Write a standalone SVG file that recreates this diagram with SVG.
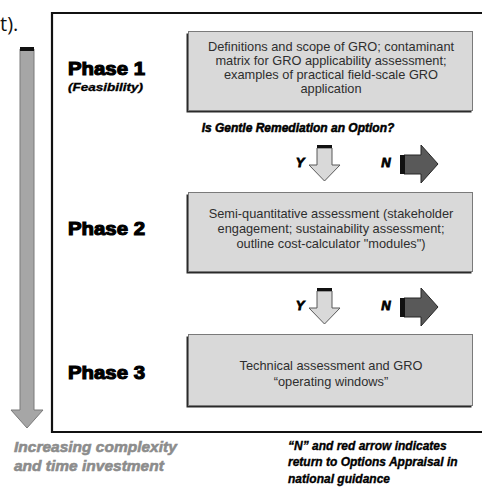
<svg xmlns="http://www.w3.org/2000/svg" width="482" height="490" viewBox="0 0 482 490">
<style>
.body{font-family:"Liberation Sans",Arial,sans-serif;font-size:12.8px;fill:#2e2e2e;text-anchor:middle}
.phase{font-family:"Liberation Sans",Arial,sans-serif;font-weight:bold;font-size:18px;fill:#000;stroke:#000;stroke-width:1.1}
.q{font-family:"Liberation Sans",Arial,sans-serif;font-weight:bold;font-style:italic;font-size:12px;fill:#000;stroke:#000;stroke-width:0.5}
.yn{font-family:"Liberation Sans",Arial,sans-serif;font-weight:bold;font-style:italic;font-size:13px;fill:#000;stroke:#000;stroke-width:0.8;text-anchor:middle}
.note{font-family:"Liberation Sans",Arial,sans-serif;font-weight:bold;font-style:italic;font-size:12px;fill:#000;stroke:#000;stroke-width:0.35}
.grey{font-family:"Liberation Sans",Arial,sans-serif;font-weight:bold;font-style:italic;font-size:15.5px;fill:#8c8c8c;stroke:#8c8c8c;stroke-width:0.6}
.box{fill:#d9d9d9;stroke:#7a7a7a;stroke-width:1}
.shadow{fill:#2a2a2a}
.yarrow{fill:#d9d9d9;stroke:#595959;stroke-width:1}
.narrow{fill:#595959;stroke:#262626;stroke-width:1}
</style>
<text x="0" y="31" font-family="'Open Sans','Liberation Sans',sans-serif" font-size="20" fill="#111">t).</text>
<g id="frame"><path d="M490 13 H52 V432 H490" fill="none" stroke="#111" stroke-width="2.2"/></g>
<g id="axis-arrow">
<polygon points="20,49 34,49 34,410 43,410 27,428 11,410 20,410" fill="#a6a6a6" stroke="#7a7a7a" stroke-width="1"/>
<rect x="20" y="47" width="14" height="4" fill="#111"/>
<text class="grey" x="14" y="452">Increasing complexity</text>
<text class="grey" x="14" y="471">and time investment</text>
</g>
<g id="phase1">
<text class="phase" x="68" y="75" textLength="77" lengthAdjust="spacingAndGlyphs">Phase 1</text>
<text x="68" y="91" font-family="'Liberation Sans',Arial,sans-serif" font-weight="bold" font-style="italic" font-size="10" fill="#000" stroke="#000" stroke-width="0.3" textLength="75" lengthAdjust="spacingAndGlyphs">(Feasibility)</text>
<rect class="shadow" x="186.5" y="33.5" width="285" height="79"/>
<rect class="box" x="188.5" y="31.5" width="284" height="79"/>
<text class="body" x="331" y="51">Definitions and scope of GRO; contaminant</text>
<text class="body" x="331" y="65">matrix for GRO applicability assessment;</text>
<text class="body" x="331" y="79">examples of practical field-scale GRO</text>
<text class="body" x="331" y="93">application</text>
</g>
<g id="phase2">
<text class="phase" x="68" y="235" textLength="77" lengthAdjust="spacingAndGlyphs">Phase 2</text>
<rect class="shadow" x="186.5" y="194.5" width="285" height="79"/>
<rect class="box" x="188.5" y="192.5" width="284" height="79"/>
<text class="body" x="331" y="218">Semi-quantitative assessment (stakeholder</text>
<text class="body" x="331" y="233">engagement; sustainability assessment;</text>
<text class="body" x="331" y="248">outline cost-calculator "modules")</text>
</g>
<g id="phase3">
<text class="phase" x="68" y="379" textLength="77" lengthAdjust="spacingAndGlyphs">Phase 3</text>
<rect class="shadow" x="186.5" y="336.5" width="285" height="71"/>
<rect class="box" x="188.5" y="334.5" width="284" height="71"/>
<text class="body" x="331" y="370">Technical assessment and GRO</text>
<text class="body" x="331" y="386">“operating windows”</text>
</g>
<g id="connectors">
<text class="q" x="298" y="132" text-anchor="middle">Is Gentle Remediation an Option?</text>
<text class="yn" x="300" y="167">Y</text>
<polygon class="yarrow" points="317,148 332,148 332,165 340,165 324.5,181 309,165 317,165"/>
<rect x="317" y="145" width="15" height="3" fill="#111"/>
<text class="yn" x="386" y="167">N</text>
<polygon class="narrow" points="404,155 421,155 421,145 438,164 421,183 421,174 404,174"/>
<rect x="400" y="155" width="5" height="19" fill="#111"/>
<text class="yn" x="300" y="310">Y</text>
<polygon class="yarrow" points="317,291 332,291 332,308 340,308 324.5,324 309,308 317,308"/>
<rect x="317" y="288" width="15" height="3" fill="#111"/>
<text class="yn" x="386" y="310">N</text>
<polygon class="narrow" points="404,298 421,298 421,288 438,307 421,326 421,317 404,317"/>
<rect x="400" y="298" width="5" height="19" fill="#111"/>
</g>
<g id="note">
<text class="note" x="288" y="450">“N” and red arrow indicates</text>
<text class="note" x="288" y="466">return to Options Appraisal in</text>
<text class="note" x="288" y="483">national guidance</text>
</g>
</svg>
